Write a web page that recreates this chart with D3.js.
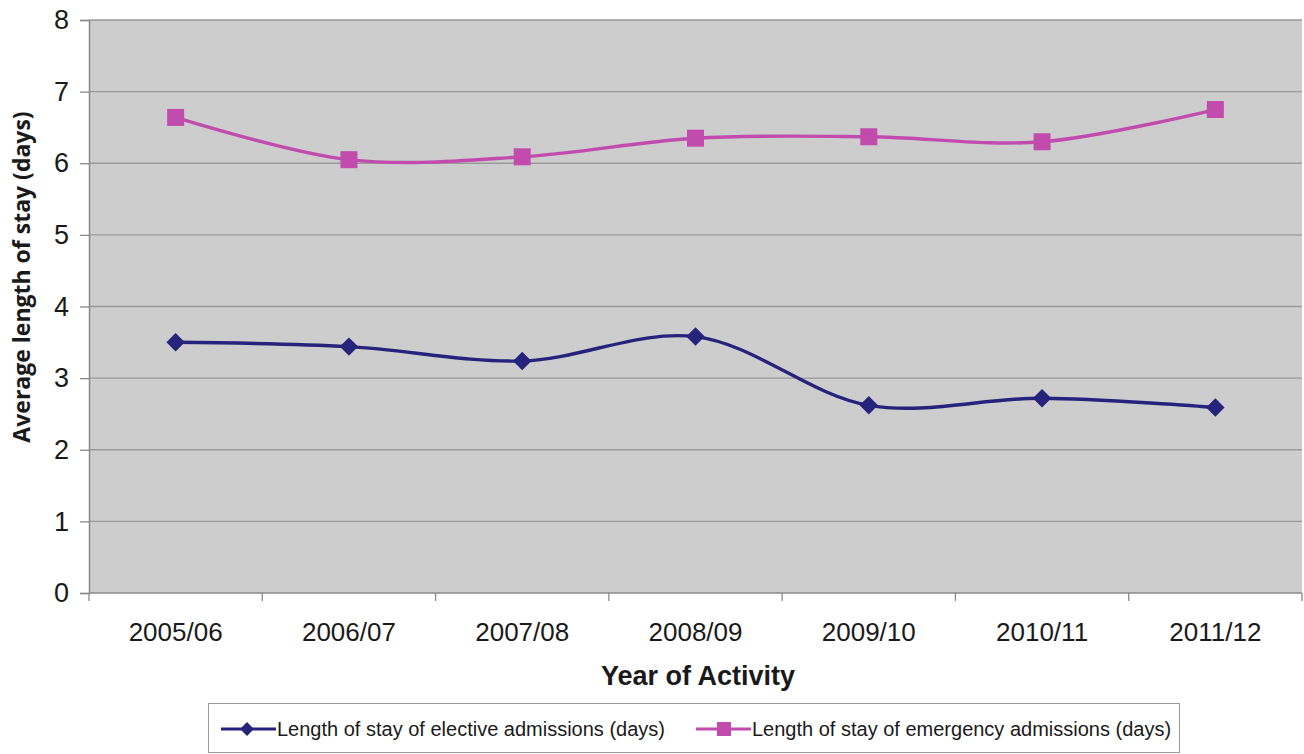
<!DOCTYPE html>
<html>
<head>
<meta charset="utf-8">
<script src="https://cdn.jsdelivr.net/npm/d3@7"></script>
<style>
  html, body { margin: 0; padding: 0; background: #fff; }
  svg { display: block; font-family: "Liberation Sans", Arial, sans-serif; }
</style>
</head>
<body>
<svg id="chart" width="1304" height="754"></svg>
<script>
// Financial years shown on the x axis
const years = ["2005/06", "2006/07", "2007/08", "2008/09", "2009/10", "2010/11", "2011/12"];
// Average length of stay (days)
const electiveStay = [3.50, 3.44, 3.24, 3.58, 2.62, 2.72, 2.59];
const emergencyStay = [6.64, 6.05, 6.09, 6.35, 6.37, 6.30, 6.75];
const yTicks = [0, 1, 2, 3, 4, 5, 6, 7, 8];
const seriesNames = [
  "Length of stay of elective admissions (days)",
  "Length of stay of emergency admissions (days)"
];

const svg = d3.select("#chart");
const margin = { left: 89, right: 2, top: 20, bottom: 161 };
const W = 1304, H = 754;
const plotW = W - margin.left - margin.right;
const plotH = H - margin.top - margin.bottom;

const x = d3.scaleBand().domain(years).range([margin.left, margin.left + plotW]).padding(0);
const y = d3.scaleLinear().domain([0, 8]).range([margin.top + plotH, margin.top]);

// Plot background
svg.append("rect")
  .attr("x", margin.left).attr("y", margin.top)
  .attr("width", plotW).attr("height", plotH)
  .attr("fill", "#cdcdcd");

// Horizontal gridlines
svg.append("g").selectAll("line")
  .data(yTicks.filter(d => d > 0))
  .join("line")
  .attr("x1", margin.left).attr("x2", margin.left + plotW)
  .attr("y1", d => y(d)).attr("y2", d => y(d))
  .attr("stroke", "#9a9a9a").attr("stroke-width", 1.3);

// Y axis
const yAxis = svg.append("g")
  .attr("transform", `translate(${margin.left},0)`)
  .call(d3.axisLeft(y).tickValues(yTicks).tickFormat(d3.format("d")).tickSize(9).tickPadding(11));
yAxis.select(".domain").attr("stroke", "#8a8a8a").attr("stroke-width", 1.5);
yAxis.selectAll(".tick line").attr("stroke", "#8a8a8a").attr("stroke-width", 1.3);
yAxis.selectAll(".tick text").attr("font-size", 27).attr("fill", "#1a1a1a")
  .attr("font-family", "'Liberation Sans', Arial, sans-serif");

// X axis: ticks on category boundaries
const xAxisG = svg.append("g").attr("transform", `translate(0,${margin.top + plotH})`);
xAxisG.append("line")
  .attr("x1", margin.left).attr("x2", margin.left + plotW)
  .attr("stroke", "#8a8a8a").attr("stroke-width", 1.5);
const boundaries = d3.range(years.length + 1).map(i => margin.left + i * x.bandwidth());
xAxisG.selectAll("line.tick")
  .data(boundaries)
  .join("line")
  .attr("class", "tick")
  .attr("x1", d => d).attr("x2", d => d)
  .attr("y1", 0).attr("y2", 8)
  .attr("stroke", "#8a8a8a").attr("stroke-width", 1.3);
xAxisG.selectAll("text")
  .data(years)
  .join("text")
  .attr("x", d => x(d) + x.bandwidth() / 2)
  .attr("y", 48)
  .attr("text-anchor", "middle")
  .attr("font-size", 26)
  .attr("fill", "#1a1a1a")
  .text(d => d);

// Axis titles
svg.append("text")
  .attr("x", 698)
  .attr("y", 685)
  .attr("text-anchor", "middle")
  .attr("font-size", 27).attr("font-weight", "bold").attr("fill", "#1a1a1a")
  .text("Year of Activity");
svg.append("text")
  .attr("transform", `translate(30,277) rotate(-90)`)
  .attr("text-anchor", "middle")
  .attr("font-family", "'Open Sans', sans-serif")
  .attr("font-size", 23).attr("font-weight", "bold").attr("fill", "#1a1a1a")
  .text("Average length of stay (days)");

const cx = d => x(d) + x.bandwidth() / 2;
const line = d3.line().x(d => cx(d.year)).y(d => y(d.value)).curve(d3.curveCatmullRom.alpha(0.5));

const series = [
  { name: seriesNames[0], values: electiveStay, color: "#25237c", marker: "diamond" },
  { name: seriesNames[1], values: emergencyStay, color: "#c24cae", marker: "square" }
];

series.forEach(s => {
  const pts = years.map((yr, i) => ({ year: yr, value: s.values[i] }));
  svg.append("path")
    .datum(pts)
    .attr("d", line)
    .attr("fill", "none")
    .attr("stroke", s.color)
    .attr("stroke-width", 3.4);
  const g = svg.append("g");
  if (s.marker === "square") {
    g.selectAll("rect").data(pts).join("rect")
      .attr("x", d => cx(d.year) - 8.5).attr("y", d => y(d.value) - 8.5)
      .attr("width", 17).attr("height", 17)
      .attr("fill", s.color);
  } else {
    g.selectAll("path").data(pts).join("path")
      .attr("d", d3.symbol().type(d3.symbolSquare).size(170))
      .attr("transform", d => `translate(${cx(d.year)},${y(d.value)}) rotate(45)`)
      .attr("fill", s.color);
  }
});

// Legend
const legend = svg.append("g");
legend.append("rect")
  .attr("x", 208.5).attr("y", 703.5)
  .attr("width", 971).attr("height", 49)
  .attr("fill", "#fff").attr("stroke", "#9a9a9a").attr("stroke-width", 1);
const legendItems = [
  { s: series[0], x0: 221 },
  { s: series[1], x0: 696 }
];
legendItems.forEach(({ s, x0 }) => {
  const ly = 729;
  legend.append("line")
    .attr("x1", x0).attr("x2", x0 + 55)
    .attr("y1", ly).attr("y2", ly)
    .attr("stroke", s.color).attr("stroke-width", 3);
  if (s.marker === "square") {
    legend.append("rect")
      .attr("x", x0 + 21).attr("y", ly - 7).attr("width", 14).attr("height", 14)
      .attr("fill", s.color);
  } else {
    legend.append("path")
      .attr("d", d3.symbol().type(d3.symbolSquare).size(95))
      .attr("transform", `translate(${x0 + 26},${ly}) rotate(45)`)
      .attr("fill", s.color);
  }
  legend.append("text")
    .attr("x", x0 + 56).attr("y", ly + 7)
    .attr("font-size", 20).attr("fill", "#1a1a1a")
    .text(s.name);
});
</script>
</body>
</html>
